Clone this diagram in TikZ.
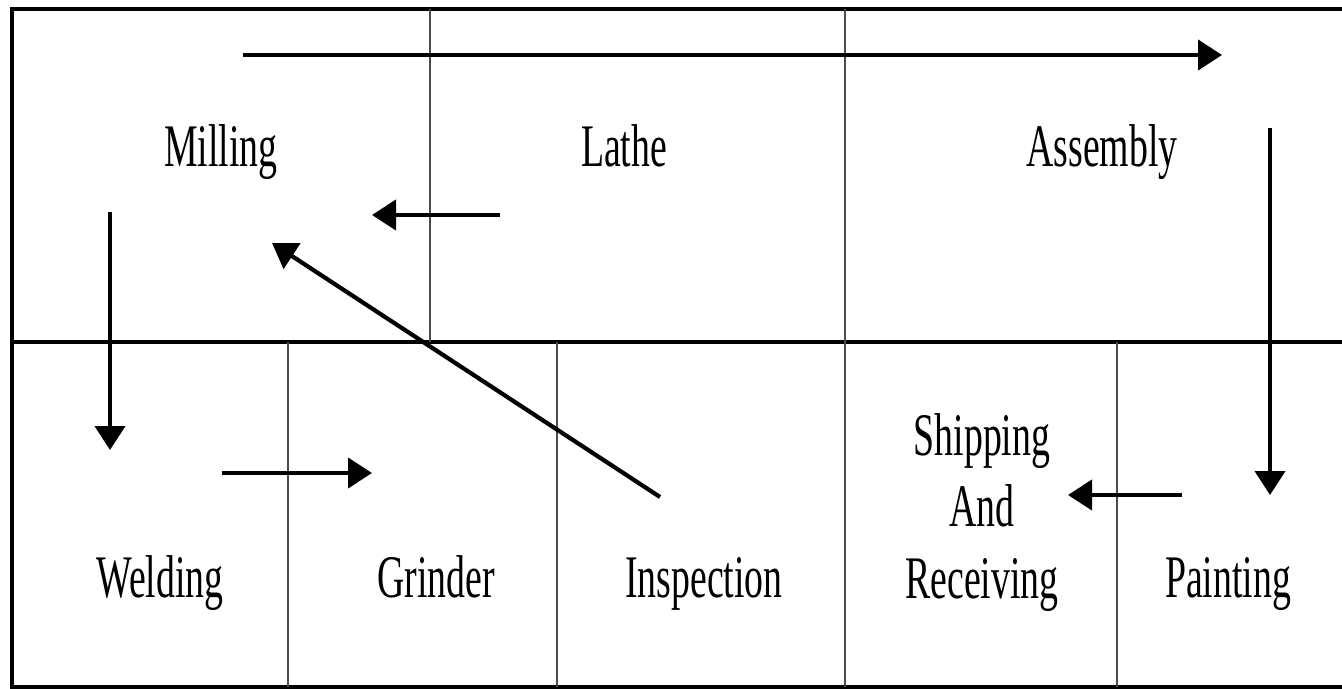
\documentclass[tikz,border=0pt]{standalone}
\usepackage{fontspec}
\setmainfont{Liberation Serif}
\usepackage{graphicx}
\usetikzlibrary{arrows.meta,positioning}

% tall, narrow lettering as in the reference
\newcommand{\tallword}[1]{\scalebox{1}[1.6]{#1}}

\tikzset{
    frameline/.style={line width=1.9pt, black},
    cellline/.style={line width=1.3pt, black!70},
    flow/.style={line width=2.4pt, -{Triangle[length=0.48cm,width=0.6cm]}},
    dept/.style={anchor=base, inner sep=0pt,
        font=\fontsize{21.5pt}{25.4pt}\selectfont}
}

\begin{document}
\begin{tikzpicture}[x=0.02cm, y=-0.02cm]

                % Page size
                \useasboundingbox (0,0) rectangle (1342,689);

                % Outer frame (right side runs off the page)
                \draw[frameline] (1342,9) -- (12,9) -- (12,687) -- (1342,687);
                \draw[frameline] (12,342) -- (1342,342);

                % Top row cells
                \foreach \x in {430,845} {
                    \draw[cellline] (\x,9) -- (\x,342);
                }

                % Bottom row cells
                \foreach \x in {288,557,845,1117} {
                    \draw[cellline] (\x,342) -- (\x,687);
                }

                % Department names
                \node[dept] (milling) at (221,167) {\tallword{Milling}};
                \node[dept] (lathe) at (624,167) {\tallword{Lathe}};
                \node[dept] (assembly) at (1102,167) {\tallword{Assembly}};
                \node[dept] (welding) at (160,597) {\tallword{Welding}};
                \node[dept] (grinder) at (436,597) {\tallword{Grinder}};
                \node[dept] (inspection) at (704,597) {\tallword{Inspection}};
                \node[dept] (shipping) at (982,598)
                    {\tallword{\begin{tabular}[b]{@{}c@{}}Shipping\\And\\Receiving\end{tabular}}};
                \node[dept] (painting) at (1228,597) {\tallword{Painting}};

                % Arrow end points
                \coordinate (topS) at (243,55);
                \coordinate (topE) at (1222,55);
                \coordinate (latheS) at (500,215);
                \coordinate (latheE) at (372,215);
                \coordinate (millS) at (110,212);
                \coordinate (millE) at (110,450);
                \coordinate (weldS) at (222,473);
                \coordinate (weldE) at (372,473);
                \coordinate (inspS) at (660,497);
                \coordinate (inspE) at (272,243);
                \coordinate (asmS) at (1270,128);
                \coordinate (asmE) at (1270,495);
                \coordinate (paintS) at (1182,495);
                \coordinate (paintE) at (1068,495);

                % Material flow
                \draw[flow] (topS) -- (topE);
                \draw[flow] (latheS) -- (latheE);
                \draw[flow] (millS) -- (millE);
                \draw[flow] (weldS) -- (weldE);
                \draw[flow] (inspS) -- (inspE);
                \draw[flow] (asmS) -- (asmE);
                \draw[flow] (paintS) -- (paintE);
            \end{tikzpicture}
\end{document}
